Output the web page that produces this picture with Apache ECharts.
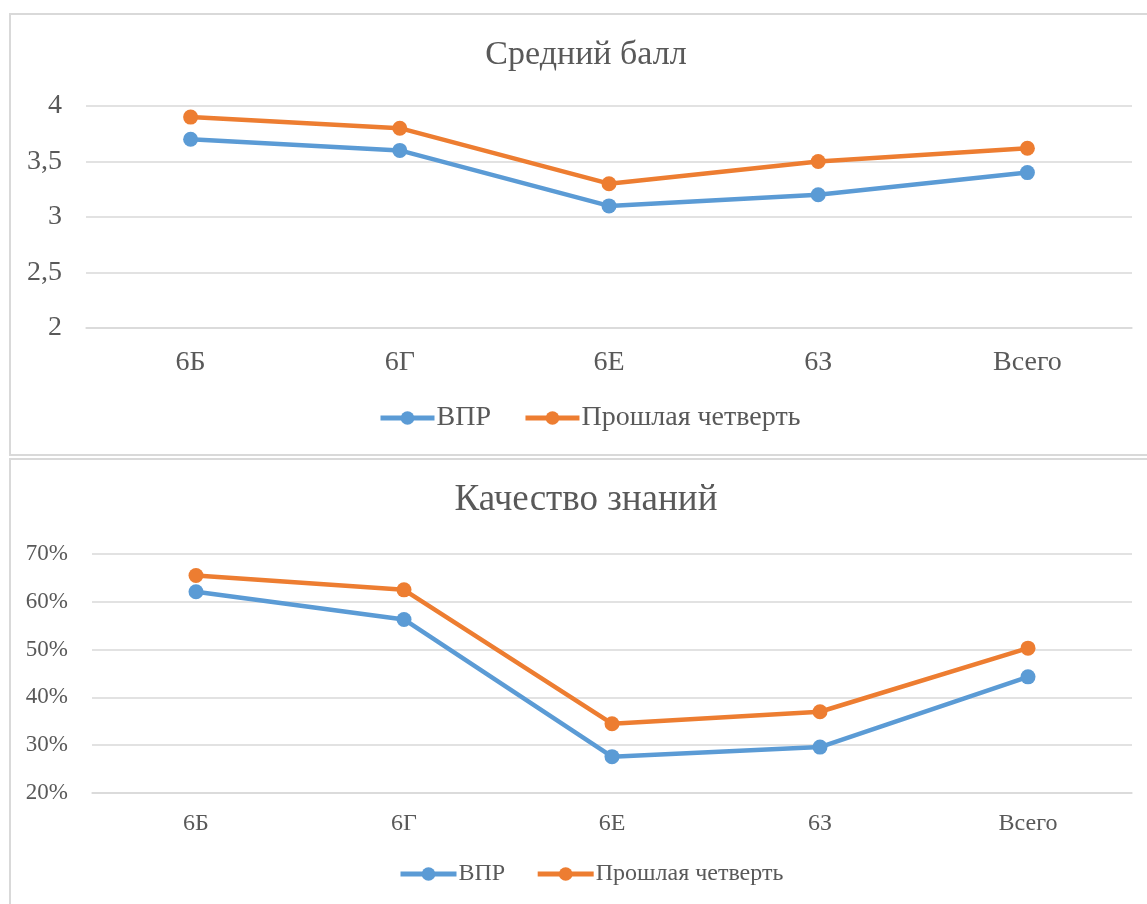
<!DOCTYPE html>
<html>
<head>
<meta charset="utf-8">
<script src="https://cdn.jsdelivr.net/npm/echarts@6/dist/echarts.min.js"></script>
<style>
html,body{margin:0;padding:0;background:#fff;}
#c{width:1147px;height:904px;}
</style>
</head>
<body>
<div id="c"></div>
<script>
const categories = ['6Б', '6Г', '6Е', '6З', 'Всего'];
const seriesNames = ['ВПР', 'Прошлая четверть'];
const titleTop = 'Средний балл';
const titleBottom = 'Качество знаний';
// Средний балл
const avgVPR = [3.7, 3.6, 3.1, 3.2, 3.4];
const avgPrev = [3.9, 3.8, 3.3, 3.5, 3.62];
// Качество знаний, %
const qualVPR = [62.1, 56.3, 27.6, 29.6, 44.3];
const qualPrev = [65.5, 62.5, 34.5, 37.0, 50.3];

const FONT = '"Liberation Serif", "Times New Roman", serif';
const TXT = '#595959';
const GRID = '#D9D9D9';
const BLUE = '#5B9BD5';
const ORANGE = '#ED7D31';

const chart = echarts.init(document.getElementById('c'), null, {renderer: 'canvas'});

function lineSeries(name, data, color, idx) {
  return {
    name: name, type: 'line', data: data,
    xAxisIndex: idx, yAxisIndex: idx,
    symbol: 'circle', symbolSize: 15,
    lineStyle: {color: color, width: 4.5},
    itemStyle: {color: color},
    emphasis: {disabled: true},
    animation: false
  };
}

const option = {
  backgroundColor: '#fff',
  animation: false,
  graphic: [
    {type: 'rect', shape: {x: 10, y: 14, width: 1160, height: 441}, style: {fill: 'none', stroke: GRID, lineWidth: 2}},
    {type: 'rect', shape: {x: 10, y: 459, width: 1160, height: 470}, style: {fill: 'none', stroke: GRID, lineWidth: 2}},
    {type: 'text', x: 586, y: 55, style: {text: titleTop, font: '34px ' + FONT, fill: TXT, textAlign: 'center', textVerticalAlign: 'middle'}},
    {type: 'text', x: 586, y: 500, style: {text: titleBottom, font: '37px ' + FONT, fill: TXT, textAlign: 'center', textVerticalAlign: 'middle'}}
  ],
  legend: [
    {
      data: seriesNames, left: 373, top: 399,
      itemWidth: 54, itemHeight: 17, itemGap: 32,
      lineStyle: {width: 5},
      textStyle: {fontFamily: FONT, fontSize: 28, color: TXT, padding: [0, 0, 0, -3]},
      selectedMode: false
    },
    {
      data: seriesNames, left: 393, top: 857,
      itemWidth: 56, itemHeight: 17, itemGap: 30,
      lineStyle: {width: 5},
      textStyle: {fontFamily: FONT, fontSize: 24, color: TXT, padding: [0, 0, 0, -3]},
      selectedMode: false
    }
  ],
  grid: [
    {left: 86, right: 15, top: 106, height: 222, containLabel: false},
    {left: 92, right: 15, top: 554, height: 239, containLabel: false}
  ],
  xAxis: [
    {
      type: 'category', gridIndex: 0, data: categories, boundaryGap: true,
      axisLine: {lineStyle: {color: GRID, width: 1.5}}, axisTick: {show: false},
      axisLabel: {fontFamily: FONT, fontSize: 28, color: TXT, margin: 21}
    },
    {
      type: 'category', gridIndex: 1, data: categories, boundaryGap: true,
      axisLine: {lineStyle: {color: GRID, width: 1.5}}, axisTick: {show: false},
      axisLabel: {fontFamily: FONT, fontSize: 24, color: TXT, margin: 19}
    }
  ],
  yAxis: [
    {
      type: 'value', gridIndex: 0, min: 2, max: 4, interval: 0.5,
      axisLine: {show: false}, axisTick: {show: false},
      splitLine: {lineStyle: {color: GRID, width: 1.5}},
      axisLabel: {fontFamily: FONT, fontSize: 28, color: TXT, margin: 24,
        formatter: v => String(v).replace('.', ',')}
    },
    {
      type: 'value', gridIndex: 1, min: 20, max: 70, interval: 10,
      axisLine: {show: false}, axisTick: {show: false},
      splitLine: {lineStyle: {color: GRID, width: 1.5}},
      axisLabel: {fontFamily: FONT, fontSize: 23, color: TXT, margin: 24,
        formatter: v => v + '%'}
    }
  ],
  series: [
    lineSeries(seriesNames[0], avgVPR, BLUE, 0),
    lineSeries(seriesNames[1], avgPrev, ORANGE, 0),
    lineSeries(seriesNames[0], qualVPR, BLUE, 1),
    lineSeries(seriesNames[1], qualPrev, ORANGE, 1)
  ]
};
chart.setOption(option);
</script>
</body>
</html>
